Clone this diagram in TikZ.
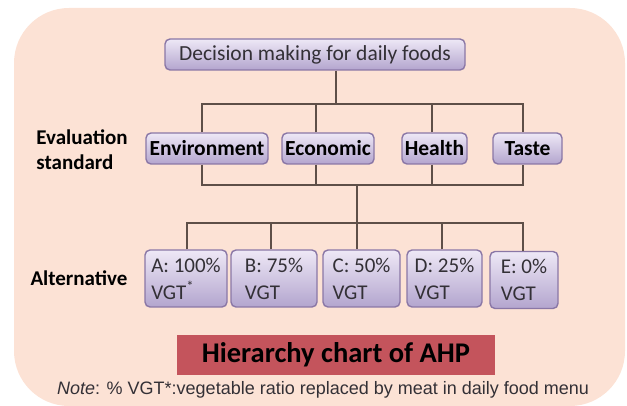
\documentclass[tikz,border=0pt]{standalone}
\usepackage{fontspec}
\setmainfont{Carlito}
\newfontfamily\notefont{Liberation Sans}
\usepackage{xcolor}
\usepackage{tikz}

\definecolor{peach}{HTML}{FCE2D5}
\definecolor{boxtop}{HTML}{EEE8F6}
\definecolor{boxbot}{HTML}{B3A5CE}
\definecolor{boxline}{HTML}{8A77A6}
\definecolor{wirecol}{HTML}{5E4F48}
\definecolor{titlered}{HTML}{C4545C}
\definecolor{inkgray}{HTML}{333036}

\tikzset{
  box/.style={draw=boxline, line width=1.4pt, rounded corners=5pt,
    top color=boxtop, bottom color=boxbot, inner sep=0pt},
  critbox/.style={box, minimum height=31pt, text=black,
    font=\fontsize{21.5}{24}\selectfont\bfseries},
  altbox/.style={box, minimum height=57pt, align=left, text=inkgray,
    font=\fontsize{21}{27}\selectfont},
  sidetext/.style={align=left, font=\fontsize{21}{25}\selectfont\bfseries},
  wire/.style={draw=wirecol, line width=1.3pt}
}

\begin{document}
\begin{tikzpicture}[x=1pt,y=-1pt]
\useasboundingbox (0,0) rectangle (627,406);
\fill[peach, rounded corners=55pt] (14,8) rectangle (625,406);

% goal
\node[box, minimum width=300pt, minimum height=31pt, text=inkgray,
  font=\fontsize{21.5}{24}\selectfont] (goal) at (315,54.5) {Decision making for daily foods};

% criteria
\node[sidetext] (evallab) at (82,149.5) {Evaluation\\standard};
\node[critbox, minimum width=122pt] (env) at (207,148.5) {Environment};
\node[critbox, minimum width=92pt] (eco) at (328,148.5) {Economic};
\node[critbox, minimum width=65pt] (health) at (434.5,148.5) {Health};
\node[critbox, minimum width=69pt] (taste) at (527.5,148.5) {Taste};

% alternatives
\node[sidetext] (altlab) at (79,278) {Alternative};
\node[altbox, minimum width=82pt] (alta) at (186,278.5) {A: 100\%\\VGT\textsuperscript{*}};
\node[altbox, minimum width=86pt] (altb) at (274,278.5) {B: 75\%\\VGT};
\node[altbox, minimum width=77pt] (altc) at (361.5,278.5) {C: 50\%\\VGT};
\node[altbox, minimum width=75pt] (altd) at (444.5,278.5) {D: 25\%\\VGT};
\node[altbox, minimum width=68pt] (alte) at (524,280) {E: 0\%\\VGT};

% junctions
\coordinate (up) at (336,104);
\coordinate (lo) at (357,185);
\coordinate (al) at (357,223);

% goal to criteria
\draw[wire] (goal.south -| up) -- (up);
\draw[wire] ([xshift=-5]env.north) |- (up) -| ([xshift=-4.5]taste.north);
\draw[wire] ([xshift=-12]eco.north) -- ([xshift=-12]eco.north |- up);
\draw[wire] ([xshift=-2.5]health.north) -- ([xshift=-2.5]health.north |- up);

% criteria to alternatives
\draw[wire] ([xshift=-5]env.south) |- (lo) -| ([xshift=-4.5]taste.south);
\draw[wire] ([xshift=-12]eco.south) -- ([xshift=-12]eco.south |- lo);
\draw[wire] ([xshift=-2.5]health.south) -- ([xshift=-2.5]health.south |- lo);
\draw[wire] (lo) -- (al);
\draw[wire] ([xshift=1]alta.north) |- (al) -| ([xshift=-1]alte.north);
\draw[wire] ([xshift=-3]altb.north) -- ([xshift=-3]altb.north |- al);
\draw[wire] (al) -- (altc.north -| al);
\draw[wire] ([xshift=-2.5]altd.north) -- ([xshift=-2.5]altd.north |- al);

% title and note
\node[fill=titlered, minimum width=318pt, minimum height=40pt,
  font=\fontsize{28.5}{32}\selectfont\bfseries] (title) at (336,355) {Hierarchy chart of AHP};
\node[text=inkgray, font=\notefont\fontsize{18}{20}\selectfont] (note) at (323,390)
  {\textit{Note}: \% VGT*:vegetable ratio replaced by meat in daily food menu};
\end{tikzpicture}
\end{document}
